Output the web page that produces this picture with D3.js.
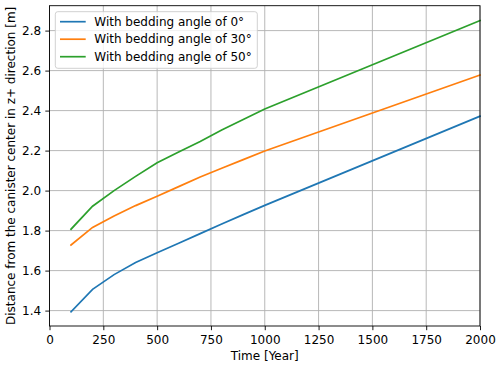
<!DOCTYPE html>
<html><head><meta charset="utf-8">
<script src="https://cdn.jsdelivr.net/npm/d3@7"></script>
<style>body{margin:0;background:#fff}svg{display:block}text{font-family:"DejaVu Sans",sans-serif;fill:#000}</style>
</head><body><svg id="c" width="500" height="367"></svg>
<script>
const years = [100,200,300,400,500,600,700,800,900,1000,2000];
const angle0 = [1.394,1.506,1.580,1.640,1.689,1.737,1.785,1.833,1.880,1.926,2.372];
const angle30 = [1.728,1.816,1.873,1.925,1.972,2.020,2.068,2.112,2.155,2.198,2.578];
const angle50 = [1.807,1.922,2.000,2.071,2.139,2.193,2.245,2.303,2.355,2.408,2.850];
const seriesNames = ["With bedding angle of 0°","With bedding angle of 30°","With bedding angle of 50°"];
const colors = ["#1f77b4","#ff7f0e","#2ca02c"];
const xTicks = [0,250,500,750,1000,1250,1500,1750,2000];
const yTicks = [1.4,1.6,1.8,2.0,2.2,2.4,2.6,2.8];

const L=49.5,R=480,T=5.7,B=326;
const svg=d3.select("#c");
const x=d3.scaleLinear().domain([0,2000]).range([L,R]);
const y=d3.scaleLinear().domain([1.323,2.9245]).range([B,T]);
const fs=12;

// grid
const g=svg.append("g");
g.selectAll(".gx").data(xTicks).join("line").attr("x1",d=>x(d)).attr("x2",d=>x(d)).attr("y1",T).attr("y2",B).attr("stroke","#b0b0b0").attr("stroke-width",0.9);
g.selectAll(".gy").data(yTicks).join("line").attr("y1",d=>y(d)).attr("y2",d=>y(d)).attr("x1",L).attr("x2",R).attr("stroke","#b0b0b0").attr("stroke-width",0.9);

// lines
const all=[angle0,angle30,angle50];
const line=d3.line().x((d,i)=>x(years[i])).y(d=>y(d));
all.forEach((s,k)=>{
  svg.append("path").attr("d",line(s)).attr("fill","none").attr("stroke",colors[k]).attr("stroke-width",1.7).attr("stroke-linecap","square");
});

// axes
const xa=svg.append("g").attr("transform",`translate(0,${B})`).call(d3.axisBottom(x).tickValues(xTicks).tickFormat(d3.format("d")).tickSize(4.2).tickPadding(5.2));
const ya=svg.append("g").attr("transform",`translate(${L},0)`).call(d3.axisLeft(y).tickValues(yTicks).tickFormat(d3.format(".1f")).tickSize(4.2).tickPadding(4.2));
[xa,ya].forEach(a=>{a.select(".domain").remove();a.selectAll("line").attr("stroke","#000").attr("stroke-width",0.9);a.selectAll("text").attr("font-size",fs).attr("font-family","DejaVu Sans");});
svg.append("rect").attr("x",L).attr("y",T).attr("width",R-L).attr("height",B-T).attr("fill","none").attr("stroke","#000").attr("stroke-width",0.9);

// labels
svg.append("text").attr("x",(L+R)/2).attr("y",359.5).attr("text-anchor","middle").attr("font-size",fs).text("Time [Year]");
svg.append("text").attr("transform",`translate(15.3,${(T+B)/2}) rotate(-90)`).attr("text-anchor","middle").attr("font-size",fs).text("Distance from the canister center in z+ direction [m]");

// legend
const lg=svg.append("g");
lg.append("rect").attr("x",55.3).attr("y",11.7).attr("width",202).attr("height",56.6).attr("rx",2.5).attr("fill","#fff").attr("fill-opacity",0.8).attr("stroke","#cccccc").attr("stroke-width",0.9);
seriesNames.forEach((n,k)=>{
  const yy=21.7+k*17.5;
  lg.append("line").attr("x1",60).attr("x2",85.7).attr("y1",yy).attr("y2",yy).attr("stroke",colors[k]).attr("stroke-width",1.7);
  lg.append("text").attr("x",94.3).attr("y",yy).attr("dy","0.35em").attr("font-size",fs).text(n);
});
</script></body></html>
